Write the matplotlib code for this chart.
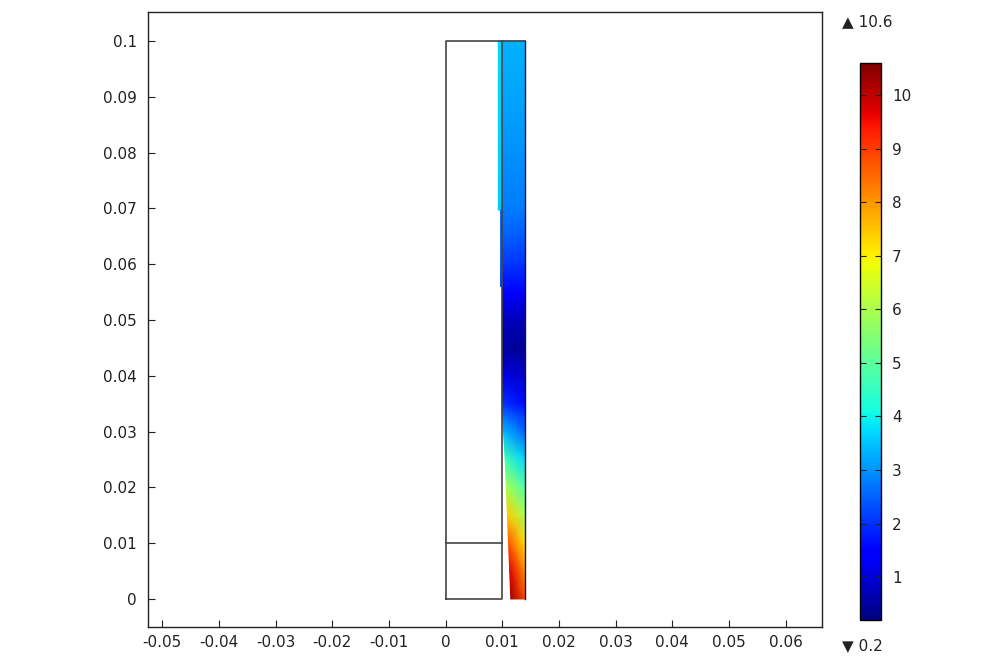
import numpy as np
import matplotlib
matplotlib.use('Agg')
import matplotlib.pyplot as plt

# colour range of the plot
v_min = 0.2
v_max = 10.6

# main coloured channel: y levels, left edge of the field, values at left and right edge
y_levels = [0.0, 0.005, 0.01, 0.015, 0.02, 0.025, 0.03, 0.033, 0.035, 0.04, 0.045,
            0.05, 0.055, 0.06, 0.065, 0.07, 0.08, 0.09, 0.1]
x_left = [0.0115, 0.0113, 0.0111, 0.0109, 0.0107, 0.0105, 0.0102, 0.0100, 0.0100, 0.0100, 0.0100,
          0.0100, 0.0100, 0.0100, 0.0100, 0.0100, 0.0100, 0.0100, 0.0100]
x_right = 0.014
val_left = [10.3, 9.7, 8.7, 7.4, 6.0, 4.7, 3.4, 2.6, 2.0, 1.1, 0.5,
            0.8, 1.5, 2.1, 2.5, 2.8, 3.0, 3.2, 3.3]
val_right = [8.9, 8.1, 7.2, 6.0, 4.8, 3.7, 2.5, 2.0, 1.6, 0.9, 0.4,
             0.7, 1.4, 2.0, 2.4, 2.8, 3.0, 3.2, 3.3]

# thin film strips left of the x = 0.01 wall
film1_x = [0.0093, 0.0099]
film1_y = [0.0697, 0.1]
film1_v = [[3.6, 3.6], [3.7, 3.7]]
film2_x = [0.0097, 0.0100]
film2_y = [0.056, 0.0697]
film2_v = [[2.0, 2.0], [2.9, 2.9]]

x_ticks = [-0.05, -0.04, -0.03, -0.02, -0.01, 0, 0.01, 0.02, 0.03, 0.04, 0.05, 0.06]
y_ticks = [0, 0.01, 0.02, 0.03, 0.04, 0.05, 0.06, 0.07, 0.08, 0.09, 0.1]
cbar_ticks = [1, 2, 3, 4, 5, 6, 7, 8, 9, 10]


def main():
    plt.rcParams['font.family'] = ['DejaVu Sans']
    fig = plt.figure(figsize=(10, 6.67), dpi=100)
    ax = fig.add_axes([0.148, 0.06, 0.674, 0.922])

    # build the channel mesh
    X = np.array([[xl, x_right] for xl in x_left])
    Y = np.array([[y, y] for y in y_levels])
    C = np.array([[a, b] for a, b in zip(val_left, val_right)])
    mesh = ax.pcolormesh(X, Y, C, cmap='jet', vmin=v_min, vmax=v_max, shading='gouraud')

    for fx, fy, fv in [(film1_x, film1_y, film1_v), (film2_x, film2_y, film2_v)]:
        FX, FY = np.meshgrid(fx, fy)
        ax.pcolormesh(FX, FY, np.array(fv), cmap='jet', vmin=v_min, vmax=v_max, shading='gouraud')

    # geometry outlines
    lc = '#444444'
    lw = 1.2
    ax.plot([0, 0, 0.01, 0.01, 0], [0, 0.1, 0.1, 0, 0], color=lc, lw=lw)
    ax.plot([0, 0.01], [0.01, 0.01], color=lc, lw=lw)
    ax.plot([0.01, 0.014], [0.1, 0.1], color=lc, lw=lw)
    ax.plot([0.014, 0.014], [0, 0.1], color='#101830', lw=1.0)

    ax.set_xlim(-0.0525, 0.0664)
    ax.set_ylim(-0.00502, 0.1052)
    ax.set_xticks(x_ticks)
    ax.set_xticklabels(['%g' % t for t in x_ticks])
    ax.set_yticks(y_ticks)
    ax.set_yticklabels(['%g' % t for t in y_ticks])
    ax.tick_params(direction='in', length=5, labelsize=11, colors='#222222')
    ax.tick_params(axis='y', pad=8)
    ax.tick_params(axis='x', pad=6)
    for s in ax.spines.values():
        s.set_color('#222222')
        s.set_linewidth(1.0)

    # colour legend
    cax = fig.add_axes([0.860, 0.0705, 0.021, 0.835])
    cb = fig.colorbar(mesh, cax=cax)
    cb.set_ticks(cbar_ticks)
    cax.tick_params(direction='in', length=4, left=True, right=True, labelsize=11, pad=8,
                    colors='#222222')
    cb.outline.set_linewidth(1.0)
    fig.text(0.842, 0.968, '\u25b2 10.6', fontsize=11, color='#222222', va='center')
    fig.text(0.842, 0.032, '\u25bc 0.2', fontsize=11, color='#222222', va='center')

    fig.savefig('out.png', dpi=100)


if __name__ == '__main__':
    main()
